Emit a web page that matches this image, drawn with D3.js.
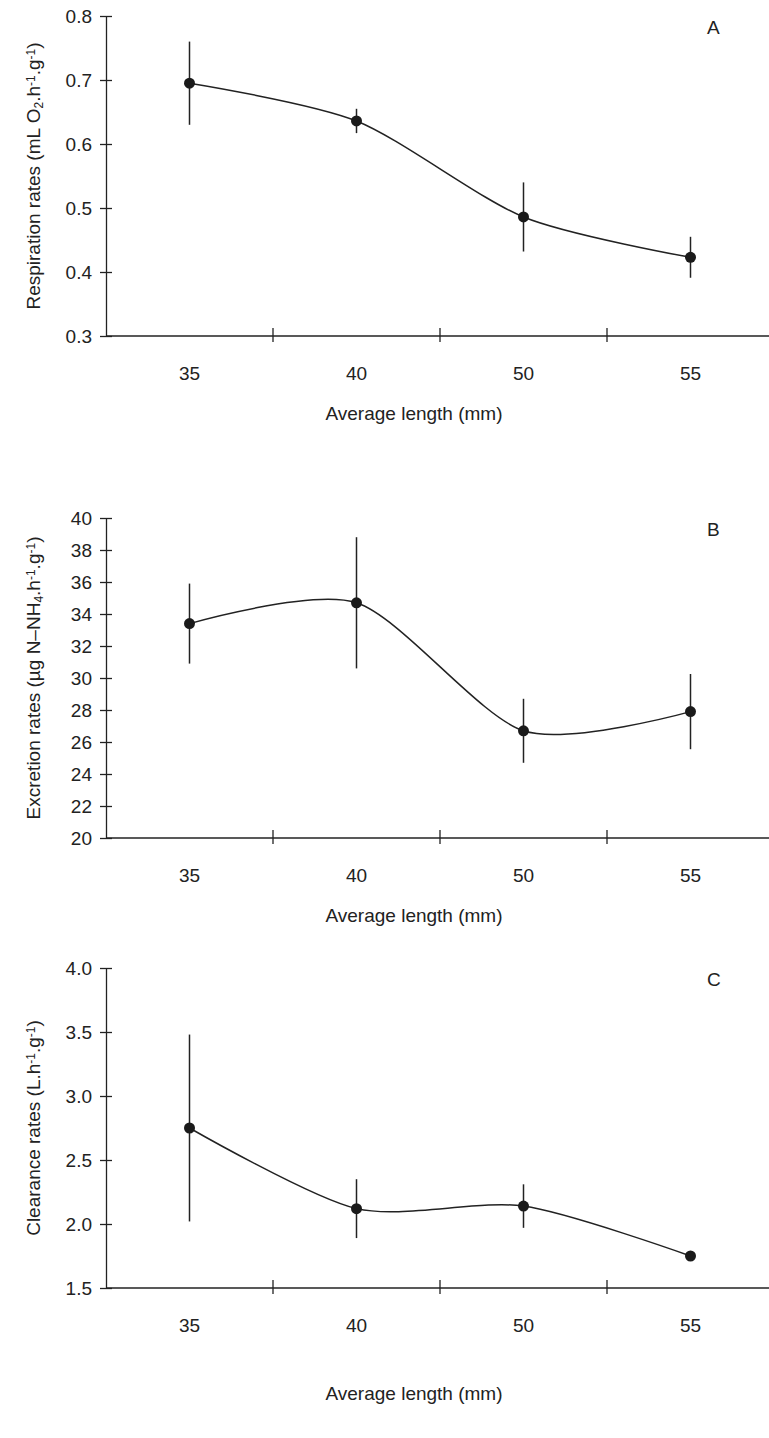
<!DOCTYPE html>
<html><head><meta charset="utf-8">
<script src="https://cdn.jsdelivr.net/npm/d3@7"></script>
<style>body{margin:0;background:#fff}text{font-family:Arial,"Liberation Sans",sans-serif;fill:#222}</style>
</head><body>
<script>
const lengths = ["35", "40", "50", "55"];
const respMean = [0.695, 0.636, 0.486, 0.423];
const respErr = [0.065, 0.019, 0.054, 0.032];
const excrMean = [33.4, 34.7, 26.7, 27.9];
const excrErr = [2.5, 4.1, 2.0, 2.35];
const clearMean = [2.75, 2.12, 2.14, 1.75];
const clearErr = [0.73, 0.23, 0.17, 0.03];

const panels = [
  { letter: "A", mean: respMean, err: respErr, domain: [0.3, 0.8], ticks: [0.3,0.4,0.5,0.6,0.7,0.8], fmt: d3.format(".1f"),
    top: 16, bottom: 336, titleY: 420, label: ['Respiration rates (mL O', ['2', 'sub'], '.h', ['-1', 'sup'], '.g', ['-1', 'sup'], ')'] },
  { letter: "B", mean: excrMean, err: excrErr, domain: [20, 40], ticks: d3.range(20, 41, 2), fmt: d3.format("d"),
    top: 518, bottom: 838, titleY: 922, label: ['Excretion rates (µg N–NH', ['4', 'sub'], '.h', ['-1', 'sup'], '.g', ['-1', 'sup'], ')'] },
  { letter: "C", mean: clearMean, err: clearErr, domain: [1.5, 4.0], ticks: [1.5,2.0,2.5,3.0,3.5,4.0], fmt: d3.format(".1f"),
    top: 968, bottom: 1288, titleY: 1400, label: ['Clearance rates (L.h', ['-1', 'sup'], '.g', ['-1', 'sup'], ')'] }
];

const svg = d3.select("body").append("svg").attr("width", 769).attr("height", 1438);
const x = d3.scaleBand().domain(lengths).range([106, 774]);

panels.forEach(p => {
  const y = d3.scaleLinear().domain(p.domain).range([p.bottom, p.top]);
  const g = svg.append("g");

  const yAxis = g.append("g").attr("transform", "translate(106,0)")
    .call(d3.axisLeft(y).tickValues(p.ticks).tickFormat(p.fmt).tickSize(6).tickSizeOuter(0));
  yAxis.selectAll("text").style("font-size", "19px").attr("x", -14);
  yAxis.select(".domain").attr("d", `M0.5,${p.bottom}V${p.top}`);
  yAxis.selectAll(".tick line").attr("x1", 6).attr("x2", -6);

  const xAxis = g.append("g").attr("transform", `translate(0,${p.bottom})`);
  xAxis.append("line").attr("x1", 106).attr("x2", 769).attr("stroke", "#222").attr("stroke-width", 1.3);
  xAxis.selectAll(".xt").data(lengths.slice(1)).join("line")
    .attr("x1", d => x(d)).attr("x2", d => x(d)).attr("y1", -8).attr("y2", 6)
    .attr("stroke", "#222").attr("stroke-width", 1.3);
  xAxis.selectAll(".xl").data(lengths).join("text")
    .attr("x", d => x(d) + x.bandwidth() / 2).attr("y", 44).attr("text-anchor", "middle")
    .style("font-size", "19px").text(d => d);
  g.append("text").attr("x", 414).attr("y", p.titleY).attr("text-anchor", "middle")
    .style("font-size", "19px").text("Average length (mm)");
  yAxis.selectAll("path,line").attr("stroke", "#222").attr("stroke-width", 1.3);

  const t = g.append("text").attr("transform", `translate(40,${(p.top + p.bottom) / 2}) rotate(-90)`)
    .attr("text-anchor", "middle").style("font-size", "19px");
  p.label.forEach(part => {
    if (typeof part === "string") t.append("tspan").text(part);
    else t.append("tspan").attr("baseline-shift", part[1] === "sub" ? "-25%" : "40%")
      .style("font-size", "12px").text(part[0]);
  });

  g.append("text").attr("x", 707).attr("y", p.top + 18).style("font-size", "19px").text(p.letter);

  const cx = i => x(lengths[i]) + x.bandwidth() / 2;
  g.append("path").datum(p.mean)
    .attr("d", d3.line().x((d, i) => cx(i)).y(d => y(d)).curve(d3.curveCardinal.tension(0.2)))
    .attr("fill", "none").attr("stroke", "#222").attr("stroke-width", 1.5);
  g.selectAll(".err").data(p.mean).join("line")
    .attr("x1", (d, i) => cx(i)).attr("x2", (d, i) => cx(i))
    .attr("y1", (d, i) => y(d - p.err[i])).attr("y2", (d, i) => y(d + p.err[i]))
    .attr("stroke", "#222").attr("stroke-width", 1.5);
  g.selectAll(".pt").data(p.mean).join("circle")
    .attr("cx", (d, i) => cx(i)).attr("cy", d => y(d)).attr("r", 5.5).attr("fill", "#1a1a1a");
});
</script>
</body></html>
